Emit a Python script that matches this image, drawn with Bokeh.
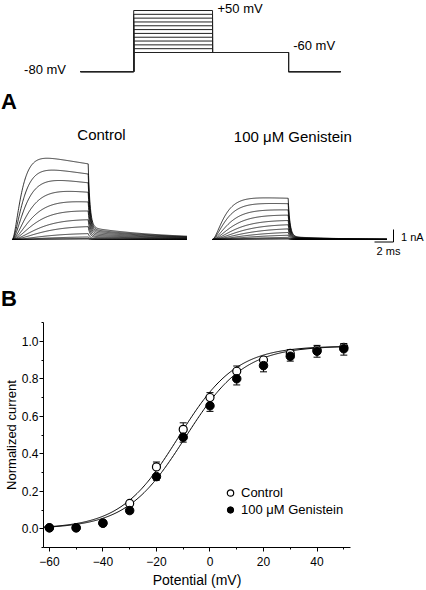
import numpy as np
from bokeh.plotting import figure
from bokeh.layouts import column
from bokeh.models import (Range1d, Label, ColumnDataSource, Whisker, TeeHead,
                          Legend, LegendItem, SingleIntervalTicker, NumeralTickFormatter)
from bokeh.embed import file_html
from bokeh.resources import INLINE

FONT = "Liberation Sans"

# ---------------- voltage protocol ----------------
STEP_MV = [-60, -50, -40, -30, -20, -10, 0, 10, 20, 30, 40, 50]
HOLD_MV = -80
TAIL_MV = -60
PROTO_DUR_MS = [5.6, 8.3, 8.0, 5.5]     # pre-hold, step, tail, post-hold

# ---------------- current traces (amplitude per step, low -> high voltage) ----------------
CTRL_PEAK_NA = [0.03, 0.08, 0.20, 0.47, 1.03, 1.58, 2.28, 3.02, 3.85, 4.72, 5.55, 6.5]
CTRL_TAU_MS = [4.0, 4.0, 3.6, 3.2, 2.8, 2.4, 2.0, 1.7, 1.4, 1.1, 0.9, 0.75]
GEN_PEAK_NA = [0.03, 0.08, 0.17, 0.34, 0.56, 0.85, 1.18, 1.52, 1.95, 2.37, 2.88, 3.33]
GEN_TAU_MS = [4.4, 4.4, 4.0, 3.6, 3.2, 2.8, 2.4, 2.0, 1.7, 1.4, 1.15, 1.0]
STEP_MS = 8.0
TAIL_MS = 10.4

# ---------------- G-V data ----------------
POT_MV = [-60, -50, -40, -30, -20, -10, 0, 10, 20, 30, 40, 50]
CTRL_MEAN = [0.005, 0.005, 0.03, 0.135, 0.33, 0.53, 0.70, 0.84, 0.90, 0.935, 0.955, 0.968]
CTRL_SEM = [0.004, 0.004, 0.006, 0.012, 0.026, 0.035, 0.026, 0.028, 0.015, 0.02, 0.023, 0.02]
GEN_MEAN = [0.005, 0.005, 0.03, 0.097, 0.278, 0.488, 0.656, 0.80, 0.87, 0.92, 0.947, 0.96]
GEN_SEM = [0.004, 0.004, 0.006, 0.014, 0.019, 0.026, 0.03, 0.033, 0.033, 0.026, 0.032, 0.034]
CTRL_FIT = dict(vhalf=-11.8, k=10.8, gmax=0.975)
GEN_FIT = dict(vhalf=-9.2, k=11.0, gmax=0.975)

# ================= layout constants =================
W = 426
H1 = 312
H2 = 278
PX_PER_MS = 9.5
PX_PER_NA = 12.5
T_LEFT = -1.23
NA_BOTTOM = -5.84
GEN_T0 = 21.05          # start of the genistein family (ms on the drawing axis)
PROTO_T0 = 7.19
HOLD_DRAW = TAIL_MV - 50   # holding level drawn with an axis break (schematic)
MV_PER_PX = 110 / 42

p1 = figure(width=W, height=H1,
            x_range=Range1d(T_LEFT, T_LEFT + W / PX_PER_MS),
            y_range=Range1d(NA_BOTTOM, NA_BOTTOM + H1 / PX_PER_NA),
            x_axis_location=None, y_axis_location=None,
            min_border=0, outline_line_color=None,
            output_backend="svg", toolbar_location=None)
p1.frame_align = False
p1.grid.visible = False
p1.extra_y_ranges = {"mv": Range1d(TAIL_MV - 260 * MV_PER_PX, 50 + 10 * MV_PER_PX)}

# protocol
t_edges = np.cumsum([PROTO_T0] + PROTO_DUR_MS)
pxs, pys = [], []
for v in STEP_MV:
    pxs.append([t_edges[0], t_edges[1], t_edges[1], t_edges[2], t_edges[2],
                t_edges[3], t_edges[3], t_edges[4]])
    pys.append([HOLD_DRAW, HOLD_DRAW, v, v, TAIL_MV, TAIL_MV, HOLD_DRAW, HOLD_DRAW])
p1.multi_line(pxs, pys, line_color="#222222", line_width=1, y_range_name="mv")

# traces
t = np.arange(0, STEP_MS + TAIL_MS + 1e-9, 0.04)


def family(peaks, taus, tau_inact, tail_frac, tau_tail, t0):
    xs, ys = [], []
    for pk, tau in zip(peaks, taus):
        tt = np.minimum(t, STEP_MS)
        on = (1 - np.exp(-tt / tau)) ** 2 * np.exp(-tt / tau_inact)
        i_end = on[t <= STEP_MS][-1]
        tp = np.maximum(t - STEP_MS, 0)
        tail = i_end * (tail_frac * np.exp(-tp / tau_tail) + (1 - tail_frac) * np.exp(-tp / 0.2))
        cur = np.where(t <= STEP_MS, on, tail)
        cur = cur / cur.max() * pk
        xs.append(t + t0)
        ys.append(cur)
    return xs, ys


cx, cy = family(CTRL_PEAK_NA, CTRL_TAU_MS, 50.0, 0.16, 8.0, 0.0)
gx, gy = family(GEN_PEAK_NA, GEN_TAU_MS, 150.0, 0.07, 5.0, GEN_T0)
p1.multi_line(cx + gx, cy + gy, line_color="black", line_width=0.8)

# scale bar
SCALE_MS, SCALE_NA = 2, 1
corner_t, corner_i = 40.14, -0.2
p1.line([corner_t - SCALE_MS, corner_t, corner_t], [corner_i, corner_i, corner_i + SCALE_NA],
        line_color="black", line_width=1)


def lab1(xp, top, text, size, align="left", bold=False):
    p1.add_layout(Label(x=xp, y=H1 - top, x_units="screen", y_units="screen", text=text,
                        text_font=FONT, text_font_size=f"{size}px", text_align=align,
                        text_baseline="top", text_color="black",
                        text_font_style="bold" if bold else "normal"))


lab1(217, 0, "+50 mV", 13)
lab1(292.7, 37.5, "-60 mV", 13)
lab1(65.5, 61.5, "-80 mV", 13, align="right")
lab1(0.5, 88.5, "A", 22, bold=True)
lab1(101, 125.5, "Control", 15, align="center")
lab1(292.3, 127, "100 \u03bcM Genistein", 15, align="center")
lab1(400.5, 230.5, "1 nA", 11)
lab1(388, 244, "2 ms", 11, align="center")
lab1(0.5, 285.5, "B", 22, bold=True)

# ================= panel B =================
FL, FB = 43, H1 + H2 - 43   # frame left / bottom on page
p2 = figure(width=W, height=H2, x_range=Range1d(-62.2, 52.5), y_range=Range1d(-0.1, 1.1),
            min_border_left=43, min_border_right=76, min_border_top=10, min_border_bottom=43,
            outline_line_color=None, output_backend="svg", toolbar_location=None)
p2.frame_align = False
p2.grid.visible = False
p2.xaxis.ticker = SingleIntervalTicker(interval=20, num_minor_ticks=2)
p2.yaxis.ticker = SingleIntervalTicker(interval=0.2, num_minor_ticks=2)
p2.yaxis.formatter = NumeralTickFormatter(format="0.0")
for ax in (p2.xaxis[0], p2.yaxis[0]):
    ax.axis_line_color = "black"
    ax.major_tick_line_color = "black"
    ax.minor_tick_line_color = "black"
    ax.major_tick_out = 4
    ax.major_tick_in = 0
    ax.minor_tick_out = 2
    ax.minor_tick_in = 0
    ax.major_label_text_font = FONT
    ax.major_label_text_font_size = "12px"
    ax.major_label_text_color = "black"
    ax.axis_label_text_font = FONT
    ax.axis_label_text_font_style = "normal"
    ax.axis_label_text_color = "black"
p2.xaxis.axis_label_text_font_size = "14px"
p2.yaxis.axis_label_text_font_size = "13px"
p2.xaxis.major_label_standoff = 5
p2.yaxis.major_label_standoff = 1
p2.xaxis.axis_label_standoff = 3
p2.yaxis.axis_label_standoff = 0
p2.xaxis.axis_label = "Potential (mV)"
p2.yaxis.axis_label = "Normalized current"

vv = np.linspace(-62, 51, 300)
for fit in (CTRL_FIT, GEN_FIT):
    g = fit["gmax"] / (1 + np.exp((fit["vhalf"] - vv) / fit["k"]))
    p2.line(vv, g, line_color="black", line_width=1)

csrc = ColumnDataSource(dict(x=POT_MV, y=CTRL_MEAN,
                             up=[m + s for m, s in zip(CTRL_MEAN, CTRL_SEM)]))
gsrc = ColumnDataSource(dict(x=POT_MV, y=GEN_MEAN,
                             lo=[m - s for m, s in zip(GEN_MEAN, GEN_SEM)]))
p2.add_layout(Whisker(base="x", upper="up", lower="y", source=csrc, line_color="black",
                      upper_head=TeeHead(size=7, line_color="black"), lower_head=None))
p2.add_layout(Whisker(base="x", upper="y", lower="lo", source=gsrc, line_color="black",
                      lower_head=TeeHead(size=7, line_color="black"), upper_head=None))
rc = p2.scatter("x", "y", source=csrc, marker="circle", size=8, fill_color="white",
                line_color="black", line_width=1.2)
rg = p2.scatter("x", "y", source=gsrc, marker="circle", size=8.5, fill_color="black",
                line_color="black")

leg = Legend(items=[LegendItem(label="Control", renderers=[rc]),
                    LegendItem(label="100 \u03bcM Genistein", renderers=[rg])],
             location=(222 - FL, FB - 517.5), orientation="vertical",
             glyph_width=16, glyph_height=17, label_height=17, label_standoff=3,
             spacing=0, padding=0, margin=0, border_line_alpha=0, background_fill_alpha=0,
             label_text_font=FONT, label_text_font_size="13px", label_text_color="black")
p2.add_layout(leg)

layout = column(p1, p2, spacing=0)
open("out.html", "w").write(file_html(layout, INLINE))
